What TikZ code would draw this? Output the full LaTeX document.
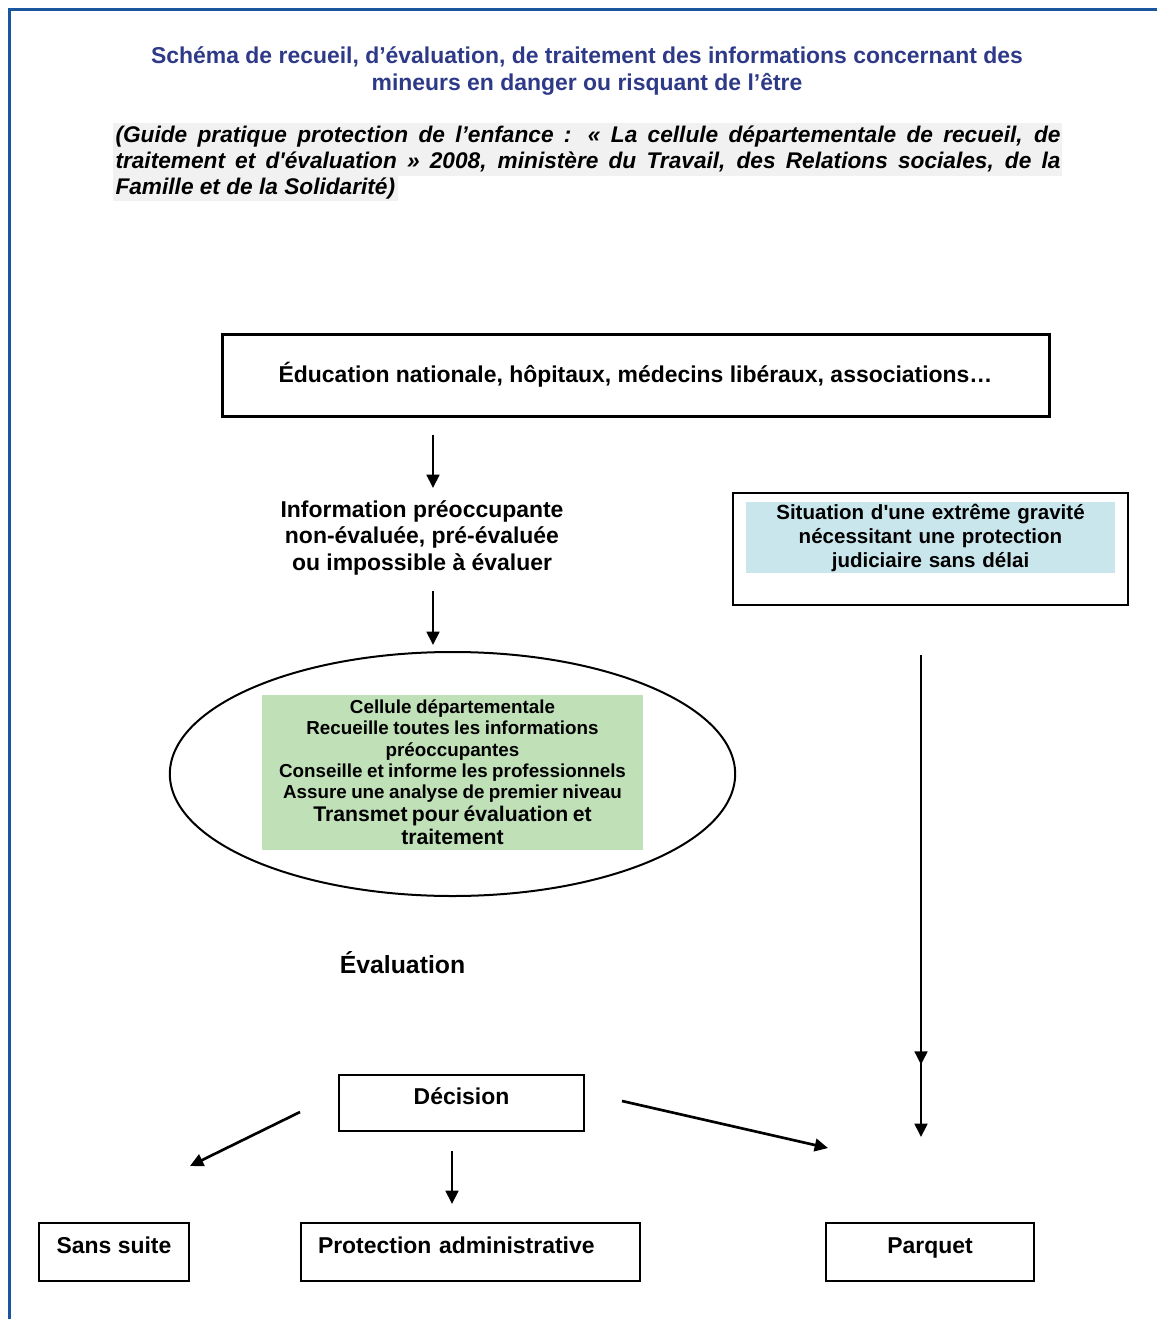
\documentclass[tikz,border=0pt]{standalone}
\usepackage{fontspec}
\setmainfont{Liberation Sans}
\usetikzlibrary{arrows.meta,positioning,shapes.geometric,decorations.markings}

\definecolor{titleblue}{RGB}{46,58,135}
\definecolor{frameblue}{RGB}{26,86,160}
\definecolor{cellgreen}{RGB}{192,224,184}
\definecolor{sitblue}{RGB}{200,230,236}
\definecolor{guidegray}{RGB}{241,241,241}

\tikzset{every picture/.style={line width=0.75pt}}
\tikzset{
  flow/.style={line width=2pt, -{Triangle[length=10pt,width=9.5pt]}},
  framebox/.style={draw, line width=1.5pt, inner sep=0pt, font=\bfseries\fontsize{17.2}{20}\selectfont},
  outbox/.style={framebox, minimum height=43.5pt, text height=11pt, text depth=9.5pt},
}

\begin{document}
\begin{tikzpicture}[x=0.75pt,y=0.75pt,yscale=-1,xscale=1]
\useasboundingbox (0,0) rectangle (1156,1319);

%Straight Lines: page frame
\draw [color=frameblue, line width=2.25pt] (9.5,1330) -- (9.5,10) -- (1170,10) ;

% Text Node
\node (title) [align=center, inner sep=0pt, text=titleblue, font=\bfseries\fontsize{17.2}{20}\selectfont] at (587,71) {Schéma de recueil, d’évaluation, de traitement des informations concernant des\\mineurs en danger ou risquant de l’être};

%Shape: Rectangle (grey behind the reference)
\fill [guidegray] (113,123) rectangle (1062,176) ;
\fill [guidegray] (113,176) rectangle (398,201) ;
% Text Node
\node (guide) [anchor=north west, inner sep=0pt, text width=708.75pt, align=justify, font=\bfseries\itshape\fontsize{17}{19.5}\selectfont] at (115,125) {(Guide pratique protection de l’enfance : «~La cellule départementale de recueil, de\linebreak traitement et d\textquotesingle évaluation~» 2008, ministère du Travail, des Relations sociales, de la\linebreak Famille et de la Solidarité)};

%Shape: Rectangle
\node (edu) [framebox, line width=2.25pt, minimum width=620.25pt, minimum height=61.5pt] at (635.5,375) {Éducation nationale, hôpitaux, médecins libéraux, associations…};

% Text Node
\node (info) [anchor=north, inner sep=0pt, align=center, font=\bfseries\fontsize{17.2}{20}\selectfont] at (422,500) {Information préoccupante\\non-évaluée, pré-évaluée\\ou impossible à évaluer};

%Shape: Ellipse
\node (cell) [ellipse, draw, line width=1.5pt, minimum width=424pt, minimum height=183pt, inner sep=0pt] at (452.5,774) {};
%Shape: Rectangle
\node (celltxt) [fill=cellgreen, minimum width=286pt, minimum height=116pt, inner sep=0pt, text width=286pt, align=center, font=\bfseries] at (452.5,772.5) {{\fontsize{14.1}{16}\selectfont Cellule départementale\\ Recueille toutes les informations\\ préoccupantes\\ Conseille et informe les professionnels\\ Assure une analyse de premier niveau\par}{\fontsize{15.9}{17.25}\selectfont Transmet pour évaluation et\\ traitement\par}};

%Shape: Rectangle
\node (sit) [draw, line width=1.5pt, minimum width=296.25pt, minimum height=84pt] at (930.5,549) {};
\node (sittxt) [fill=sitblue, minimum width=276.75pt, minimum height=53.25pt, inner sep=0pt, text width=276.75pt, align=center, font=\bfseries\fontsize{15.4}{18}\selectfont] at (930.5,537.5) {Situation d\textquotesingle une extrême gravité\\ nécessitant une protection\\ judiciaire sans délai};

% Text Node
\node (eval) [inner sep=0pt, font=\bfseries\fontsize{18.6}{20}\selectfont] at (402.5,963) {Évaluation};

%Shape: Rectangle
\node (dec) [outbox, minimum width=183.75pt, minimum height=42pt] at (461.5,1103) {Décision};
\node (sans) [outbox, minimum width=112.5pt] at (114,1252) {Sans suite};
\node (prot) [outbox, inner xsep=12.75pt, text width=228.75pt, align=left] at (470.5,1252) {Protection administrative};
\node (parq) [outbox, minimum width=156pt] at (930,1252) {Parquet};

%Straight Lines
\draw [flow] ([shift={(-202.5,17)}]edu.south) -- ([shift={(11,-12)}]info.north) ;
\draw [flow] ([shift={(11,15)}]info.south) -- ([shift={(-19.5,-6)}]cell.north) ;
\draw [flow, postaction={decorate}, decoration={markings, mark=at position 0.85 with {\arrow{Triangle[length=10pt,width=9.5pt]}}}] ([shift={(-9.5,49)}]sit.south) -- ([shift={(-9,-85)}]parq.north) ;
\draw [flow] ([shift={(-38,9)}]dec.west) -- ([shift={(76,-56)}]sans.north) ;
\draw [flow] ([shift={(-9.5,19)}]dec.south) -- ([shift={(-18.5,-18)}]prot.north) ;
\draw [flow] ([shift={(37,-2)}]dec.east) -- ([shift={(-102,-74)}]parq.north) ;

\end{tikzpicture}
\end{document}
